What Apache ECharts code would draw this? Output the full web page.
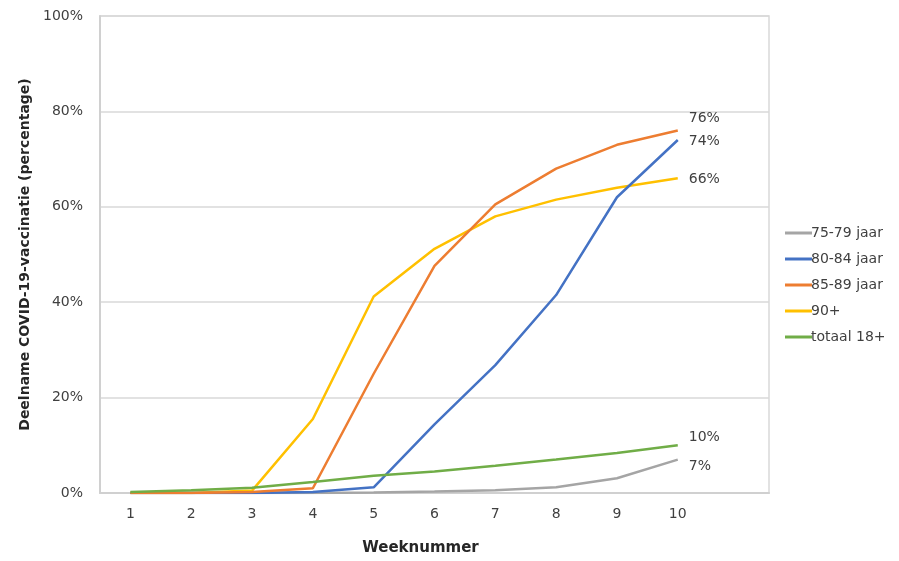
<!DOCTYPE html>
<html>
<head>
<meta charset="utf-8">
<script src="https://cdn.jsdelivr.net/npm/echarts@6/dist/echarts.min.js"></script>
<style>html,body{margin:0;padding:0;background:#fff}#c{width:899px;height:561px}</style>
</head>
<body>
<div id="c"></div>
<script>
const weeks = ['1','2','3','4','5','6','7','8','9','10',''];
const yTicks = [0, 20, 40, 60, 80, 100];
const seriesNames = ['75-79 jaar', '80-84 jaar', '85-89 jaar', '90+', 'totaal 18+'];
const s7579 = [0, 0, 0, 0, 0.1, 0.3, 0.6, 1.2, 3.1, 7];
const s8084 = [0, 0, 0, 0.2, 1.2, 14.4, 26.8, 41.5, 62, 74];
const s8589 = [0, 0, 0.2, 1.0, 25, 47.6, 60.5, 68, 73, 76];
const s90 = [0, 0, 0.5, 15.5, 41.2, 51.2, 58, 61.5, 64, 66];
const sTot = [0.2, 0.6, 1.1, 2.3, 3.6, 4.5, 5.7, 7.0, 8.4, 10];
const colors = ['#A5A5A5', '#4472C4', '#ED7D31', '#FFC000', '#70AD47'];
const labelOffsets = [[3, 7], [3, 1], [3, -12], [3, 1], [3, -8]];

const allData = [s7579, s8084, s8589, s90, sTot];
const font = 'DejaVu Sans';
const chart = echarts.init(document.getElementById('c'), null, {renderer: 'canvas'});
chart.setOption({
  animation: false,
  grid: {left: 100, right: 130, top: 16, bottom: 68, show: true, borderColor: '#d9d9d9', borderWidth: 1.5},
  legend: {
    orient: 'vertical', left: 780, top: 221, itemWidth: 27, itemHeight: 3, itemGap: 12,
    icon: 'rect',
    data: seriesNames,
    textStyle: {fontFamily: font, fontSize: 14, color: '#404040', padding: [0, 0, 0, -6]}
  },
  xAxis: {
    type: 'category', data: weeks, boundaryGap: true,
    axisLine: {lineStyle: {color: '#d0d0d0', width: 2}},
    axisTick: {show: false},
    axisLabel: {fontFamily: font, fontSize: 14, color: '#404040', margin: 14},
    name: 'Weeknummer', nameLocation: 'middle', nameGap: 48,
    nameTextStyle: {fontFamily: font, fontSize: 15, fontWeight: 'bold', color: '#262626', padding: [0, 28, 0, 0]}
  },
  yAxis: {
    type: 'value', min: yTicks[0], max: yTicks[yTicks.length - 1], interval: 20,
    axisLine: {show: true, lineStyle: {color: '#d0d0d0', width: 2}},
    axisTick: {show: false},
    splitLine: {lineStyle: {color: '#d9d9d9', width: 1.5}},
    axisLabel: {fontFamily: font, fontSize: 14, color: '#404040', margin: 17, formatter: '{value}%'},
    name: 'Deelname COVID-19-vaccinatie (percentage)', nameLocation: 'middle', nameGap: 62,
    nameTextStyle: {fontFamily: font, fontSize: 14, fontWeight: 'bold', color: '#262626'}
  },
  series: seriesNames.map((n, i) => ({
    name: n, type: 'line', data: allData[i], symbol: 'none', smooth: false,
    color: colors[i],
    lineStyle: {width: 2.5, color: colors[i]},
    endLabel: {
      show: true, formatter: p => Math.round(p.value) + '%',
      fontFamily: font, fontSize: 14, color: '#404040', offset: labelOffsets[i]
    },
    z: [1, 3, 4, 2, 5][i]
  }))
});
</script>
</body>
</html>
